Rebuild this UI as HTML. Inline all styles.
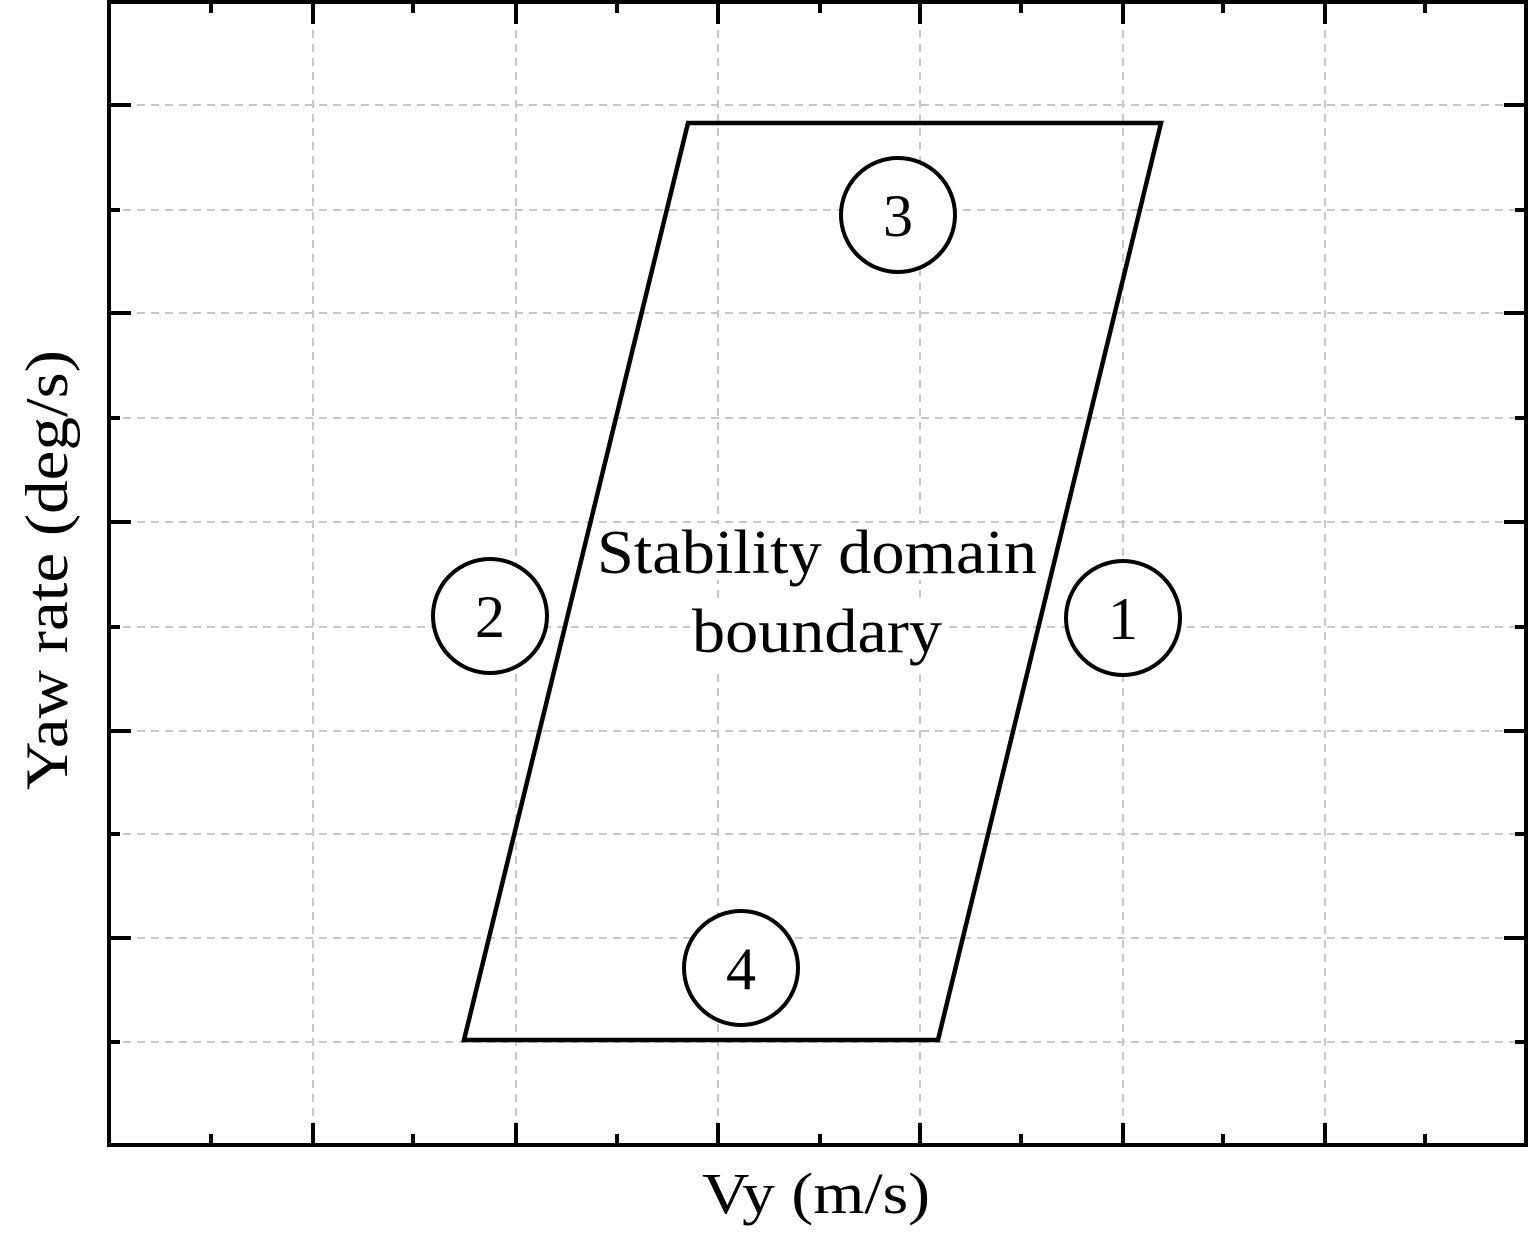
<!DOCTYPE html>
<html><head><meta charset="utf-8"><style>body{margin:0;background:#fff}svg{display:block}</style></head>
<body>
<svg width="1535" height="1240" viewBox="0 0 1535 1240" xmlns="http://www.w3.org/2000/svg" font-family="'Liberation Serif', serif">
<g stroke="#c8c8c8" stroke-width="2" stroke-dasharray="8,6">
<line x1="109" y1="105" x2="1526" y2="105"/><line x1="109" y1="210" x2="1526" y2="210"/>
<line x1="109" y1="313" x2="1526" y2="313"/><line x1="109" y1="418" x2="1526" y2="418"/>
<line x1="109" y1="522" x2="1526" y2="522"/><line x1="109" y1="627" x2="1526" y2="627"/>
<line x1="109" y1="731" x2="1526" y2="731"/><line x1="109" y1="834" x2="1526" y2="834"/>
<line x1="109" y1="938" x2="1526" y2="938"/><line x1="109" y1="1042" x2="1526" y2="1042"/>
<line x1="313" y1="2" x2="313" y2="1145"/><line x1="516" y1="2" x2="516" y2="1145"/>
<line x1="718" y1="2" x2="718" y2="1145"/><line x1="920" y1="2" x2="920" y2="1145"/>
<line x1="1123" y1="2" x2="1123" y2="1145"/><line x1="1325" y1="2" x2="1325" y2="1145"/>
</g>
<g stroke="#000" stroke-width="4">
<line x1="109" y1="105" x2="131" y2="105"/><line x1="1504" y1="105" x2="1526" y2="105"/>
<line x1="109" y1="210" x2="120" y2="210"/><line x1="1515" y1="210" x2="1526" y2="210"/>
<line x1="109" y1="313" x2="131" y2="313"/><line x1="1504" y1="313" x2="1526" y2="313"/>
<line x1="109" y1="418" x2="120" y2="418"/><line x1="1515" y1="418" x2="1526" y2="418"/>
<line x1="109" y1="522" x2="131" y2="522"/><line x1="1504" y1="522" x2="1526" y2="522"/>
<line x1="109" y1="627" x2="120" y2="627"/><line x1="1515" y1="627" x2="1526" y2="627"/>
<line x1="109" y1="731" x2="131" y2="731"/><line x1="1504" y1="731" x2="1526" y2="731"/>
<line x1="109" y1="834" x2="120" y2="834"/><line x1="1515" y1="834" x2="1526" y2="834"/>
<line x1="109" y1="938" x2="131" y2="938"/><line x1="1504" y1="938" x2="1526" y2="938"/>
<line x1="109" y1="1042" x2="120" y2="1042"/><line x1="1515" y1="1042" x2="1526" y2="1042"/>
<line x1="211" y1="2" x2="211" y2="13"/><line x1="211" y1="1134" x2="211" y2="1145"/>
<line x1="313" y1="2" x2="313" y2="24"/><line x1="313" y1="1123" x2="313" y2="1145"/>
<line x1="413" y1="2" x2="413" y2="13"/><line x1="413" y1="1134" x2="413" y2="1145"/>
<line x1="516" y1="2" x2="516" y2="24"/><line x1="516" y1="1123" x2="516" y2="1145"/>
<line x1="617" y1="2" x2="617" y2="13"/><line x1="617" y1="1134" x2="617" y2="1145"/>
<line x1="718" y1="2" x2="718" y2="24"/><line x1="718" y1="1123" x2="718" y2="1145"/>
<line x1="820" y1="2" x2="820" y2="13"/><line x1="820" y1="1134" x2="820" y2="1145"/>
<line x1="920" y1="2" x2="920" y2="24"/><line x1="920" y1="1123" x2="920" y2="1145"/>
<line x1="1021" y1="2" x2="1021" y2="13"/><line x1="1021" y1="1134" x2="1021" y2="1145"/>
<line x1="1123" y1="2" x2="1123" y2="24"/><line x1="1123" y1="1123" x2="1123" y2="1145"/>
<line x1="1223" y1="2" x2="1223" y2="13"/><line x1="1223" y1="1134" x2="1223" y2="1145"/>
<line x1="1325" y1="2" x2="1325" y2="24"/><line x1="1325" y1="1123" x2="1325" y2="1145"/>
<line x1="1425" y1="2" x2="1425" y2="13"/><line x1="1425" y1="1134" x2="1425" y2="1145"/>
</g>
<rect x="109" y="2" width="1417" height="1143" fill="none" stroke="#000" stroke-width="4"/>
<polygon points="688,123 1161,123 938,1040 464,1040" fill="none" stroke="#000" stroke-width="4.5" stroke-linejoin="miter"/>
<rect x="596" y="524" width="442" height="56" fill="#fff"/>
<rect x="690" y="602" width="254" height="66" fill="#fff"/>
<text x="817" y="573" font-size="62" text-anchor="middle" textLength="440" lengthAdjust="spacingAndGlyphs">Stability domain</text>
<text x="817" y="652" font-size="62" text-anchor="middle" textLength="250" lengthAdjust="spacingAndGlyphs">boundary</text>
<g fill="#fff" stroke="#000" stroke-width="4">
<circle cx="898" cy="215" r="57"/><circle cx="490" cy="616" r="57"/>
<circle cx="1123" cy="618" r="57"/><circle cx="741" cy="968" r="57"/>
</g>
<g font-size="60" text-anchor="middle">
<text x="898" y="236">3</text><text x="490" y="637">2</text>
<text x="1123" y="639">1</text><text x="741" y="989">4</text>
</g>
<text x="816" y="1213" font-size="58" text-anchor="middle" textLength="228" lengthAdjust="spacingAndGlyphs">Vy (m/s)</text>
<text transform="translate(67,570) rotate(-90)" font-size="60" text-anchor="middle" textLength="440" lengthAdjust="spacingAndGlyphs">Yaw rate (deg/s)</text>
</svg>
</body></html>
